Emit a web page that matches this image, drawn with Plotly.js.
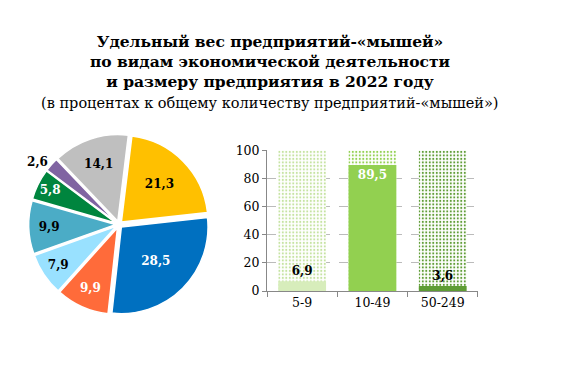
<!DOCTYPE html>
<html><head><meta charset="utf-8">
<script src="https://cdn.plot.ly/plotly-3.0.1.min.js"></script>
<style>body{margin:0;padding:0;background:#fff}</style>
</head><body>
<div id="chart" style="width:573px;height:368px"></div>
<script>
// Pie data (clockwise from top)
const pieValues = [21.3, 28.5, 9.9, 7.9, 9.9, 5.8, 2.6, 14.1];
const pieColors = ['#FFC000', '#0070C0', '#FF6B3A', '#99E1FF', '#4BACC6', '#00853E', '#8064A2', '#BFBFBF'];
const pieTextColors = ['#000', '#fff', '#fff', '#000', '#000', '#fff', '#000', '#000'];
const pieTextPos = ['inside','inside','inside','inside','inside','inside','outside','inside'];

// Bar data
const sizeCats = ['5-9', '10-49', '50-249'];
const sizeValues = [6.9, 89.5, 3.6];
const fullValues = [100, 100, 100];
const barColors = ['#D7EDBB', '#92D050', '#5E9C34'];
const patternColors = ['#C5E3A0', '#92D050', '#5E9C34'];
const barTextColors = ['#000', '#fff', '#000'];
const barTextPos = ['outside', 'inside', 'outside'];
const yTicks = [0, 20, 40, 60, 80, 100];

const serif = 'DejaVu Serif';
const cond = 'condensed';

const traces = [
  {
    type: 'pie',
    values: pieValues,
    sort: false,
    direction: 'clockwise',
    rotation: 7,
    pull: pieValues.map(() => 0.04),
    marker: {colors: pieColors, line: {color: '#fff', width: 1.5}},
    texttemplate: '%{value:.1f}',
    textposition: pieTextPos,
    textfont: {family: serif, stretch: cond, size: 12, weight: 'bold', color: pieTextColors},
    insidetextorientation: 'horizontal',
    hoverinfo: 'none',
    showlegend: false,
    domain: {x: [0.03, 0.385], y: [0.145, 0.635]}
  },
  {
    type: 'bar',
    x: sizeCats,
    y: fullValues,
    marker: {
      color: '#fff',
      pattern: {shape: '.', fgcolor: patternColors, bgcolor: '#fff', size: 3.5, solidity: 0.28},
      line: {width: 0}
    },
    width: 0.68,
    hoverinfo: 'none',
    showlegend: false,
    xaxis: 'x', yaxis: 'y'
  },
  {
    type: 'bar',
    x: sizeCats,
    y: sizeValues,
    marker: {color: barColors, line: {width: 0}},
    width: 0.68,
    texttemplate: '%{y:.1f}',
    textposition: barTextPos,
    textfont: {family: serif, stretch: cond, size: 12, weight: 'bold', color: barTextColors},
    outsidetextfont: {family: serif, stretch: cond, size: 12, weight: 'bold', color: '#000'},
    insidetextfont: {family: serif, stretch: cond, size: 12, weight: 'bold', color: '#fff'},
    constraintext: 'none',
    cliponaxis: false,
    hoverinfo: 'none',
    showlegend: false,
    xaxis: 'x', yaxis: 'y'
  }
];

const layout = {
  width: 573, height: 368,
  margin: {l: 0, r: 0, t: 0, b: 0},
  paper_bgcolor: '#fff', plot_bgcolor: '#fff',
  separators: ', ',
  barmode: 'overlay',
  font: {family: serif, stretch: cond, size: 12, color: '#000'},
  xaxis: {
    domain: [0.466, 0.834],
    showline: true, linecolor: '#888', linewidth: 1,
    ticks: 'outside', tickson: 'boundaries', ticklen: 5, tickcolor: '#888',
    showgrid: false,
    tickfont: {family: serif, stretch: cond, size: 12.5, color: '#000'},
    fixedrange: true
  },
  yaxis: {
    domain: [0.209, 0.592],
    range: [0, 100],
    tickvals: yTicks,
    showline: true, linecolor: '#888', linewidth: 1,
    ticks: 'outside', ticklen: 4, tickcolor: '#888',
    showgrid: true, gridcolor: '#BBBBBB', griddash: 'dash', gridwidth: 1,
    zeroline: false,
    tickfont: {family: serif, stretch: cond, size: 12.5, color: '#000'},
    fixedrange: true
  },
  annotations: [
    {text: 'Удельный вес предприятий-«мышей»<br>по видам экономической деятельности<br>и размеру предприятия в 2022 году',
     xref: 'paper', yref: 'paper', x: 0.471, y: 1 - 30/368, xanchor: 'center', yanchor: 'top',
     showarrow: false, align: 'center',
     font: {family: serif, stretch: cond, size: 15.5, weight: 'bold', color: '#000'}},
    {text: '(в процентах к общему количеству предприятий-«мышей»)',
     xref: 'paper', yref: 'paper', x: 0.471, y: 1 - 103/368, xanchor: 'center', yanchor: 'middle',
     showarrow: false,
     font: {family: serif, stretch: cond, size: 14.5, color: '#000'}}
  ]
};

Plotly.newPlot('chart', traces, layout, {staticPlot: true, displayModeBar: false});
</script>
</body></html>
